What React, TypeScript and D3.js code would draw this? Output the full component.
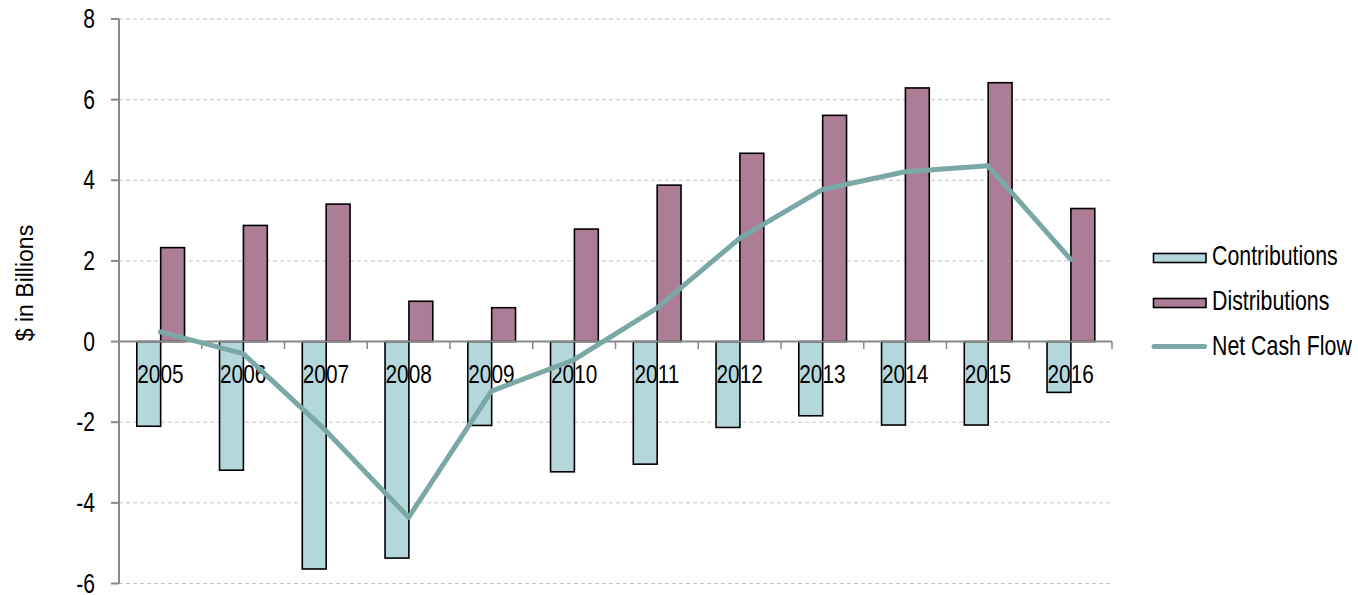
import React from "react";
import * as d3 from "d3";

const years = ["2005","2006","2007","2008","2009","2010","2011","2012","2013","2014","2015","2016"];
const contributions = [-2.10,-3.19,-5.64,-5.37,-2.08,-3.23,-3.04,-2.13,-1.84,-2.07,-2.07,-1.26];
const distributions = [2.33,2.88,3.41,1.00,0.84,2.79,3.88,4.67,5.61,6.29,6.42,3.30];
const netCashFlow = [0.24,-0.30,-2.21,-4.36,-1.23,-0.45,0.83,2.56,3.77,4.21,4.36,2.04];
const yTicks = [8,6,4,2,0,-2,-4,-6];
const legendItems = ["Contributions","Distributions","Net Cash Flow"];

const W = 1358, H = 595;
const left = 119, right = 1112, top = 19, bottom = 583.5;
const cColor = "#b4d7dc", dColor = "#ac7d94", lColor = "#79a8a6";
const axisColor = "#888888";
const font = "'Liberation Sans', Arial, sans-serif";

export default function App() {
  const x = d3.scaleBand<string>().domain(years).range([left, right]).padding(0);
  const bw = x.bandwidth();
  const inner = d3.scaleBand<string>().domain(["c","d"]).range([bw*0.215, bw*0.792]).padding(0);
  const y = d3.scaleLinear().domain([-6, 8]).range([bottom, top]);
  const line = d3.line<number>().x((_, i) => (x(years[i]) as number) + bw/2).y(v => y(v));

  return (
    <svg width={W} height={H} style={{position:"absolute", left:0, top:0, background:"#fff"}} fontFamily={font}>
      <rect x={0} y={0} width={W} height={H} fill="#fff" />
      {/* gridlines */}
      {yTicks.filter(t => t !== 0).map(t => (
        <line key={"g"+t} x1={left} x2={right} y1={y(t)} y2={y(t)} stroke="#c4c4c4" strokeWidth={1} strokeDasharray="4,3" />
      ))}
      {/* bars */}
      {years.map((yr, i) => (
        <g key={"b"+yr}>
          <rect x={(x(yr) as number) + (inner("c") as number)} y={y(0)} width={inner.bandwidth()} height={y(contributions[i]) - y(0)}
            fill={cColor} stroke="#000" strokeWidth={1.6} />
          <rect x={(x(yr) as number) + (inner("d") as number)} y={y(distributions[i])} width={inner.bandwidth()} height={y(0) - y(distributions[i])}
            fill={dColor} stroke="#000" strokeWidth={1.6} />
        </g>
      ))}
      {/* x axis */}
      <line x1={left} x2={right} y1={y(0)} y2={y(0)} stroke={axisColor} strokeWidth={2} />
      {years.map((yr) => (
        <line key={"xt"+yr} x1={(x(yr) as number) + bw} x2={(x(yr) as number) + bw} y1={y(0)} y2={y(0)+7.5} stroke={axisColor} strokeWidth={1.5} />
      ))}
      {/* y axis */}
      <line x1={left} x2={left} y1={top} y2={bottom} stroke={axisColor} strokeWidth={2} />
      {yTicks.map(t => (
        <g key={"yt"+t}>
          <line x1={left-8} x2={left} y1={y(t)} y2={y(t)} stroke={axisColor} strokeWidth={2} />
          <g transform={`translate(95,${y(t)+9}) scale(0.78,1)`}>
            <text textAnchor="end" fontSize={27} fill="#000">{t}</text>
          </g>
        </g>
      ))}
      {/* category labels */}
      {years.map(yr => (
        <g key={"xl"+yr} transform={`translate(${(x(yr) as number) + bw/2},382.5) scale(0.8,1)`}>
          <text textAnchor="middle" fontSize={26} fill="#000">{yr}</text>
        </g>
      ))}
      {/* net cash flow line */}
      <path d={line(netCashFlow) as string} fill="none" stroke={lColor} strokeWidth={5} strokeLinejoin="round" strokeLinecap="round" />
      {/* y axis title */}
      <text transform={`translate(32.5,283) rotate(-90)`} textAnchor="middle" fontSize={23} fill="#000">$ in Billions</text>
      {/* legend */}
      {legendItems.map((name, i) => {
        const by = 265 + i*45;
        return (
          <g key={"lg"+name}>
            {i < 2 ? (
              <rect x={1153.5} y={by-11.5} width={52.5} height={9} fill={i===0?cColor:dColor} stroke="#000" strokeWidth={1.6} />
            ) : (
              <line x1={1154} x2={1204.5} y1={by-8.5} y2={by-8.5} stroke={lColor} strokeWidth={5} strokeLinecap="round" />
            )}
            <g transform={`translate(1212,${by}) scale(0.79,1)`}>
              <text fontSize={27} fill="#000">{name}</text>
            </g>
          </g>
        );
      })}
    </svg>
  );
}
